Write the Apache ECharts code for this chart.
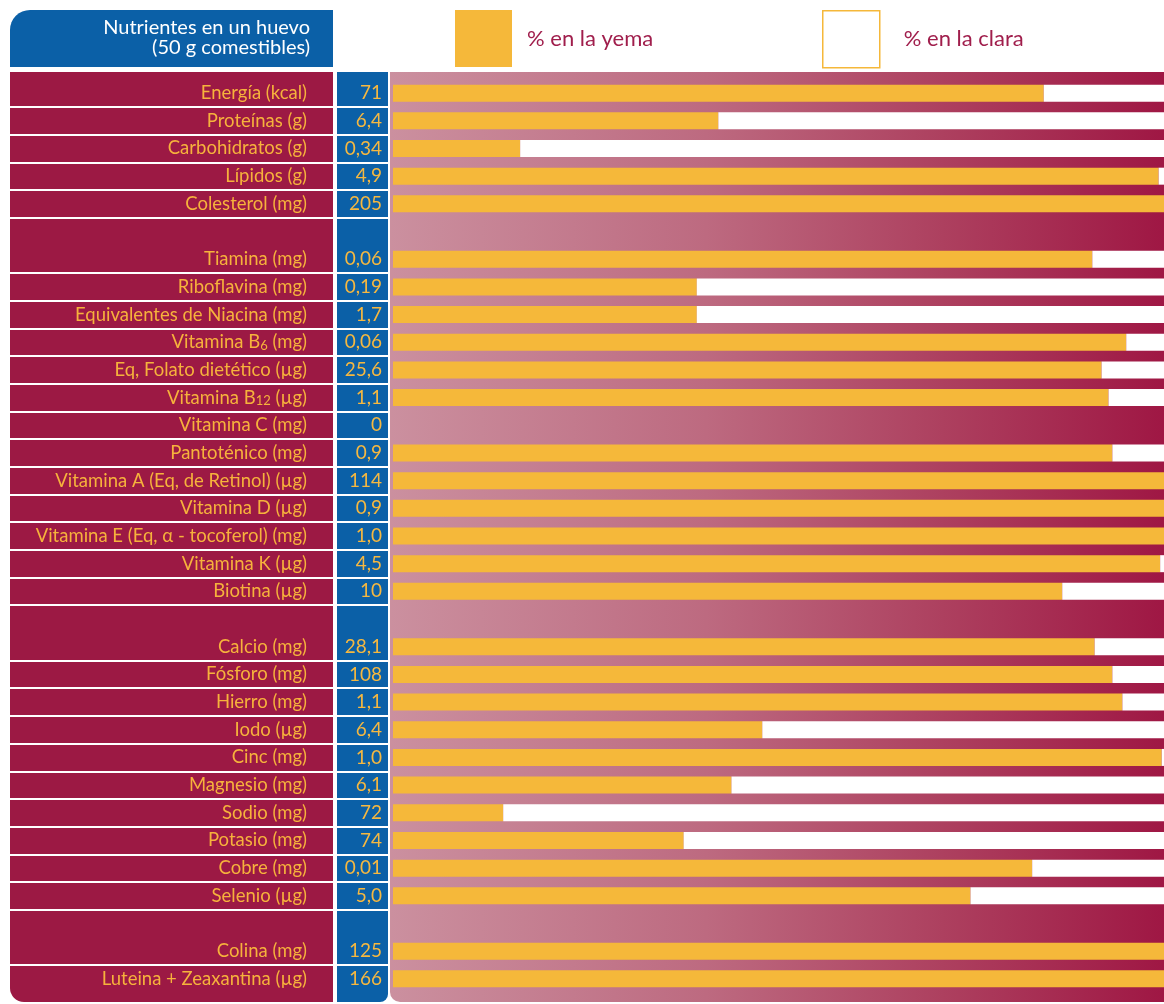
<!DOCTYPE html>
<html lang="es">
<head>
    <meta charset="UTF-8">
    <title>Nutrientes en un huevo</title>
    <script src="https://cdn.jsdelivr.net/npm/echarts@6/dist/echarts.min.js"></script>
    <style>
        html, body { margin: 0; padding: 0; background: #fff; }
        #main_1 { width: 1164px; height: 1004px; }
    </style>
</head>
<body>
<div id="main_1"></div>
<script>
    // filas vacias ('', ' ', '  ') separan los grupos
    var nutrientes = [
        'Energía (kcal)', 'Proteínas (g)', 'Carbohidratos (g)', 'Lípidos (g)', 'Colesterol (mg)',
        '',
        'Tiamina (mg)', 'Riboflavina (mg)', 'Equivalentes de Niacina (mg)', 'Vitamina B6 (mg)',
        'Eq, Folato dietético (µg)', 'Vitamina B12 (µg)', 'Vitamina C (mg)', 'Pantoténico (mg)',
        'Vitamina A (Eq, de Retinol) (µg)', 'Vitamina D (µg)', 'Vitamina E (Eq, α - tocoferol) (mg)',
        'Vitamina K (µg)', 'Biotina (µg)',
        ' ',
        'Calcio (mg)', 'Fósforo (mg)', 'Hierro (mg)', 'Iodo (µg)', 'Cinc (mg)', 'Magnesio (mg)',
        'Sodio (mg)', 'Potasio (mg)', 'Cobre (mg)', 'Selenio (µg)',
        '  ',
        'Colina (mg)', 'Luteina + Zeaxantina (µg)'
    ];
    var cantidades = [
        '71', '6,4', '0,34', '4,9', '205',
        '',
        '0,06', '0,19', '1,7', '0,06', '25,6', '1,1', '0', '0,9', '114', '0,9', '1,0', '4,5', '10',
        '',
        '28,1', '108', '1,1', '6,4', '1,0', '6,1', '72', '74', '0,01', '5,0',
        '',
        '125', '166'
    ];
    var yema = [
        84.4, 42.2, 16.5, 99.3, 100,
        '-',
        90.7, 39.4, 39.4, 95.1, 91.9, 92.8, 0, 93.3, 100, 100, 100, 99.5, 86.8,
        '-',
        91.0, 93.3, 94.6, 47.9, 99.7, 43.9, 14.3, 37.7, 82.9, 74.9,
        '-',
        100, 100
    ];
    var clara = [
        15.6, 57.8, 83.5, 0.7, 0,
        '-',
        9.3, 60.6, 60.6, 4.9, 8.1, 7.2, 0, 6.7, 0, 0, 0, 0.5, 13.2,
        '-',
        9.0, 6.7, 5.4, 52.1, 0.3, 56.1, 85.7, 62.3, 17.1, 25.1,
        '-',
        0, 0
    ];

    var granate = '#9c1944';
    var azul = '#0b60a7';
    var amarillo = '#f5b83a';
    var fuente = 'Lato, "Open Sans", sans-serif';

    var myChart = echarts.init(document.getElementById('main_1'));

    var option = {
        animation: false,
        graphic: [
            {type: 'rect', z: -10, shape: {x: 10, y: 10, width: 323, height: 57, r: [20, 0, 0, 0]}, style: {fill: azul}},
            {type: 'rect', z: -10, shape: {x: 10, y: 72, width: 323, height: 930, r: [0, 0, 0, 14]}, style: {fill: granate}},
            {type: 'rect', z: -10, shape: {x: 337, y: 72, width: 51, height: 930, r: [0, 0, 8, 0]}, style: {fill: azul}},
            {
                type: 'rect', z: -10,
                shape: {x: 390, y: 72, width: 790, height: 930, r: [0, 0, 0, 10]},
                style: {
                    fill: new echarts.graphic.LinearGradient(0, 0, 1, 0, [
                        {offset: 0, color: '#cb909f'},
                        {offset: 0.4, color: '#bd6a80'},
                        {offset: 0.7, color: '#ad405f'},
                        {offset: 1, color: '#9e1442'}
                    ])
                }
            },
            {
                type: 'text', z: 5,
                style: {
                    text: 'Nutrientes en un huevo\n(50 g comestibles)',
                    x: 310, y: 38,
                    align: 'right', verticalAlign: 'middle',
                    fill: '#fff', fontSize: 20, fontFamily: fuente, lineHeight: 20
                }
            }
        ],
        legend: [
            {
                left: 455, top: 10, padding: 0, itemWidth: 57, itemHeight: 57, icon: 'rect', selectedMode: false,
                data: ['% en la yema'],
                textStyle: {color: '#a01e4c', fontSize: 22, fontFamily: fuente, padding: [0, 0, 0, 10]}
            },
            {
                left: 822, top: 10, padding: 0, itemWidth: 57, itemHeight: 57, icon: 'rect', selectedMode: false,
                data: [{name: '% en la clara', itemStyle: {color: '#fff', borderColor: amarillo, borderWidth: 1.5}}],
                textStyle: {color: '#a01e4c', fontSize: 22, fontFamily: fuente, padding: [0, 0, 0, 19]}
            }
        ],
        grid: [
            {left: 10, top: 79.3, width: 378, height: 913.4, outerBoundsMode: 'none'},
            {left: 393, top: 79.3, width: 771, height: 913.4, outerBoundsMode: 'none'}
        ],
        xAxis: [
            {type: 'value', gridIndex: 0, show: false},
            {type: 'value', gridIndex: 1, min: 0, max: 100, show: false}
        ],
        yAxis: [
            {
                type: 'category', gridIndex: 0, inverse: true, position: 'right', data: nutrientes,
                axisLine: {show: false}, axisTick: {show: false},
                axisLabel: {
                    inside: true, margin: 81, align: 'right', interval: 0,
                    color: '#f6b23c', fontSize: 18.5, fontFamily: fuente,
                    formatter: function (v) {
                        return v.replace(/B(\d+) \(/, 'B{s|$1} (');
                    },
                    rich: {
                        s: {fontSize: 13, color: '#f6b23c', fontFamily: fuente, verticalAlign: 'bottom', padding: [7, 0, 0, 0]}
                    }
                },
                splitLine: {
                    show: true, showMinLine: false, showMaxLine: false,
                    lineStyle: {color: '#ffffff', width: 2},
                    interval: function (index) {
                        return index === 0 || nutrientes[index - 1].trim() !== '';
                    }
                }
            },
            {
                type: 'category', gridIndex: 0, inverse: true, position: 'right', data: cantidades,
                axisLine: {show: false}, axisTick: {show: false}, splitLine: {show: false},
                axisLabel: {
                    inside: true, margin: 6, align: 'right', interval: 0,
                    color: '#f6b840', fontSize: 19, fontFamily: fuente
                }
            },
            {
                type: 'category', gridIndex: 1, inverse: true, data: nutrientes, show: false
            }
        ],
        series: [
            {
                name: '% en la yema', type: 'bar', stack: 'huevo', xAxisIndex: 1, yAxisIndex: 2,
                barWidth: 17, itemStyle: {color: amarillo}, data: yema
            },
            {
                name: '% en la clara', type: 'bar', stack: 'huevo', xAxisIndex: 1, yAxisIndex: 2,
                barWidth: 17, itemStyle: {color: '#ffffff'}, data: clara
            }
        ]
    };
    myChart.setOption(option);
</script>
</body>
</html>
